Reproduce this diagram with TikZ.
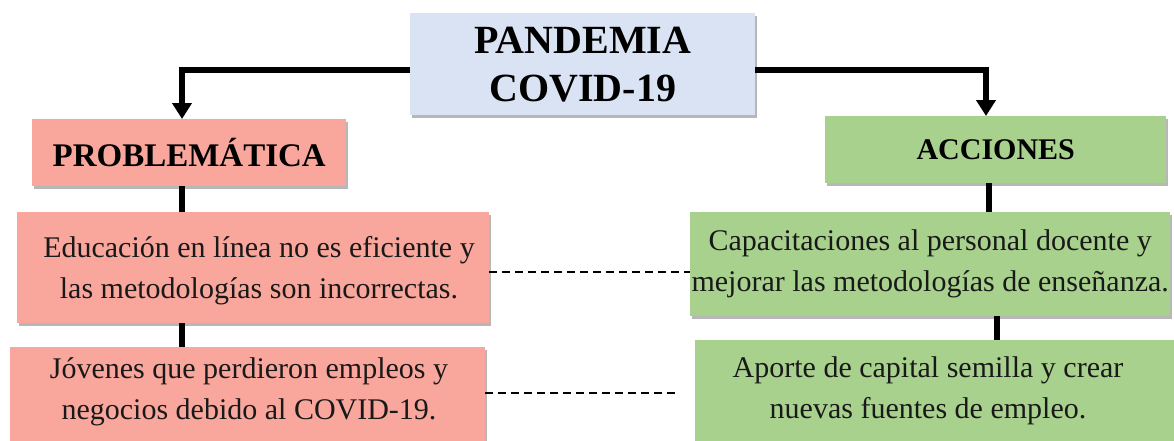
\documentclass[tikz,border=0pt]{standalone}
\usepackage{fontspec}
\setmainfont{Liberation Serif}
\usetikzlibrary{shadows,arrows.meta}
\definecolor{blu}{HTML}{DAE3F3}
\definecolor{sal}{HTML}{F9A79D}
\definecolor{grn}{HTML}{A9D18E}
\tikzset{
  box/.style={rectangle, inner sep=0pt, anchor=north west,
    drop shadow={shadow xshift=2pt, shadow yshift=-3pt, opacity=0.4, fill=black!70}},
  conn/.style={line width=5.5pt},
  arr/.style={-{Triangle[width=19pt,length=16pt]}},
  dashline/.style={line width=1.8pt, dash pattern=on 8pt off 5pt},
  bodytext/.style={font=\fontsize{30}{41}\selectfont, align=center, text=black!90},
}
\begin{document}
\begin{tikzpicture}[x=1pt,y=1pt]
\useasboundingbox (0,0) rectangle (1174,-440);
\clip (0,0) rectangle (1174,-440);
% boxes
\node[box, fill=blu, minimum width=345pt, minimum height=102pt, align=center,
  font=\fontsize{40}{48}\selectfont\bfseries] (title) at (410,-13) {PANDEMIA\\COVID-19};
\node[box, fill=sal, minimum width=314pt, minimum height=67pt,
  font=\fontsize{33}{36}\selectfont\bfseries] (prob) at (32,-119) {PROBLEMÁTICA\hspace{10pt}};
\node[box, fill=grn, minimum width=341pt, minimum height=67pt,
  font=\fontsize{30}{34}\selectfont\bfseries] (acc) at (825,-116) {ACCIONES};
\node[box, fill=sal, minimum width=472pt, minimum height=111pt] (L1) at (17,-212) {};
\node[bodytext] (L1t) at (259,-271) {Educación en línea no es eficiente y\\las metodologías son incorrectas.};
\node[box, fill=sal, minimum width=475pt, minimum height=110pt] (L2) at (10,-347) {};
\node[bodytext] (L2t) at (249,-392) {Jóvenes que perdieron empleos y\\negocios debido al COVID-19.};
\node[box, fill=grn, minimum width=480pt, minimum height=104pt, bodytext] (R1) at (690,-212)
  {Capacitaciones al personal docente y\\mejorar las metodologías de enseñanza.};
\node[box, fill=grn, minimum width=490pt, minimum height=110pt] (R2) at (695,-340) {};
\node[bodytext] (R2t) at (928,-391) {Aporte de capital semilla y crear\\nuevas fuentes de empleo.};
% helper coordinates
\coordinate (lx) at (182,0);
\coordinate (rx) at (986,0);
\coordinate (rx2) at (989,0);
\coordinate (rx3) at (997,0);
\coordinate (d1) at (0,-272);
\coordinate (d2) at (0,-393);
\coordinate (e2) at (680,-393);
% connectors
\draw[conn, arr] ([yshift=-6pt]title.west) -| (prob.north -| lx);
\draw[conn, arr] ([yshift=-6pt]title.east) -| (acc.north -| rx);
\draw[conn] (prob.south -| lx) -- (L1.north -| lx);
\draw[conn] (L1.south -| lx) -- (L2.north -| lx);
\draw[conn] (acc.south -| rx2) -- (R1.north -| rx2);
\draw[conn] (R1.south -| rx3) -- (R2.north -| rx3);
\draw[dashline] (L1.east |- d1) -- (R1.west |- d1);
\draw[dashline] (L2.east |- d2) -- (e2);
\end{tikzpicture}
\end{document}
